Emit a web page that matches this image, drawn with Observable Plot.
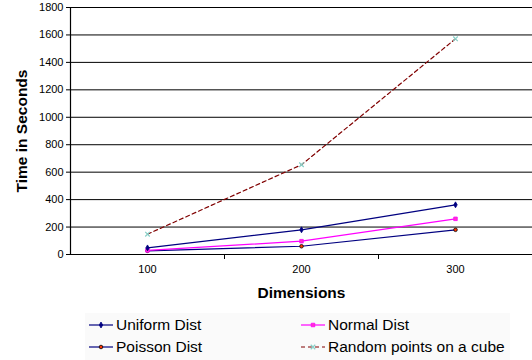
<!DOCTYPE html>
<html><head><meta charset="utf-8">
<script src="https://cdn.jsdelivr.net/npm/d3@7"></script>
<script src="https://cdn.jsdelivr.net/npm/@observablehq/plot@0.6"></script>
<style>
body{margin:0;background:#fff;font-family:"Liberation Sans",Arial,sans-serif;}
#wrap{position:relative;width:532px;height:360px;}
#chart svg{display:block;}
g[aria-label="y-axis label"] text, g[aria-label="x-axis label"] text{font-weight:bold;font-size:15.5px;}
#legend{position:absolute;left:85px;top:313px;width:425px;height:47px;background:#fafafa;font-size:15.5px;color:#000;}
.item{position:absolute;display:flex;align-items:center;height:18px;}
.item svg{margin-right:3px;}
</style></head>
<body>
<div id="wrap"><div id="chart"></div><div id="legend"></div></div>
<script>
const dims = [100, 200, 300];
const uniform = [48, 180, 362];
const normal = [30, 97, 260];
const poisson = [27, 60, 180];
const cube = [148, 654, 1572];
const seriesNames = ["Uniform Dist", "Normal Dist", "Poisson Dist", "Random points on a cube"];
const yTicks = [0, 200, 400, 600, 800, 1000, 1200, 1400, 1600, 1800];

const styles = {
  "Uniform Dist": {line: "#000080", dash: null, symbol: "diamond", fill: "#000080", stroke: "#000080", r: 1.8},
  "Normal Dist": {line: "#ff00ff", dash: null, symbol: "square", fill: "#ff33cc", stroke: "#ff00ff", r: 2},
  "Poisson Dist": {line: "#000080", dash: null, symbol: "circle", fill: "#ff3300", stroke: "#000000", r: 1.8},
  "Random points on a cube": {line: "#800000", dash: "4,3", symbol: "times", fill: "none", stroke: "#88d0c8", r: 2.2}
};
const values = [uniform, normal, poisson, cube];
const data = [];
seriesNames.forEach((s, i) => dims.forEach((d, j) => data.push({series: s, dim: d, t: values[i][j]})));

const marks = [
  Plot.ruleY(yTicks.filter(v => v > 0), {stroke: "#000", strokeWidth: 1}),
  Plot.axisY({ticks: yTicks, tickFormat: d => String(d), tickSize: 4, tickPadding: 3, fontSize: 11, label: "Time in Seconds", labelAnchor: "center", labelArrow: "none", labelOffset: 55}),
  Plot.axisX({ticks: [150, 250], tickSize: 5, tickFormat: () => "", label: null}),
  Plot.axisX({ticks: dims, tickSize: 0, tickPadding: 11, fontSize: 11, label: "Dimensions", labelAnchor: "center", labelArrow: "none", labelOffset: 43}),
  Plot.ruleX([50], {stroke: "#000", strokeWidth: 1.2}),
  Plot.ruleY([0], {stroke: "#000", strokeWidth: 1.2})
];
seriesNames.slice().reverse().forEach(s => {
  const st = styles[s];
  const sub = data.filter(d => d.series === s);
  marks.push(Plot.line(sub, {x: "dim", y: "t", stroke: st.line, strokeWidth: 1.2, strokeDasharray: st.dash}));
  marks.push(Plot.dot(sub, {x: "dim", y: "t", symbol: () => st.symbol, r: st.r, fill: st.fill, stroke: st.stroke, strokeWidth: st.symbol === "times" ? 1.2 : 0.8}));
});

const chart = Plot.plot({
  width: 532, height: 305,
  marginTop: 7, marginBottom: 51, marginLeft: 70, marginRight: 0,
  style: {fontFamily: "'Liberation Sans', Arial, sans-serif", fontSize: "11px", color: "#000"},
  x: {type: "linear", domain: [50, 350], range: [70, 532]},
  y: {domain: [0, 1800], range: [254, 7]},
  marks
});
document.getElementById("chart").appendChild(chart);

// legend
const legend = document.getElementById("legend");
const pos = [[4, 3], [216, 3], [4, 25], [216, 25]];
seriesNames.forEach((s, i) => {
  const st = styles[s];
  const div = document.createElement("div");
  div.className = "item";
  div.style.left = pos[i][0] + "px";
  div.style.top = pos[i][1] + "px";
  const svg = d3.create("svg").attr("width", 24).attr("height", 12);
  svg.append("line").attr("x1", 0).attr("x2", 24).attr("y1", 6).attr("y2", 6)
    .attr("stroke", st.line).attr("stroke-width", 1.2).attr("stroke-dasharray", st.dash);
  const sym = {diamond: d3.symbolDiamond, square: d3.symbolSquare, circle: d3.symbolCircle, times: d3.symbolTimes}[st.symbol];
  svg.append("path").attr("transform", "translate(12,6)")
    .attr("d", d3.symbol(sym, Math.PI * st.r * st.r)())
    .attr("fill", st.fill).attr("stroke", st.stroke).attr("stroke-width", st.symbol === "times" ? 1.2 : 0.8);
  div.appendChild(svg.node());
  const span = document.createElement("span");
  span.textContent = s;
  div.appendChild(span);
  legend.appendChild(div);
});
</script>
</body></html>
